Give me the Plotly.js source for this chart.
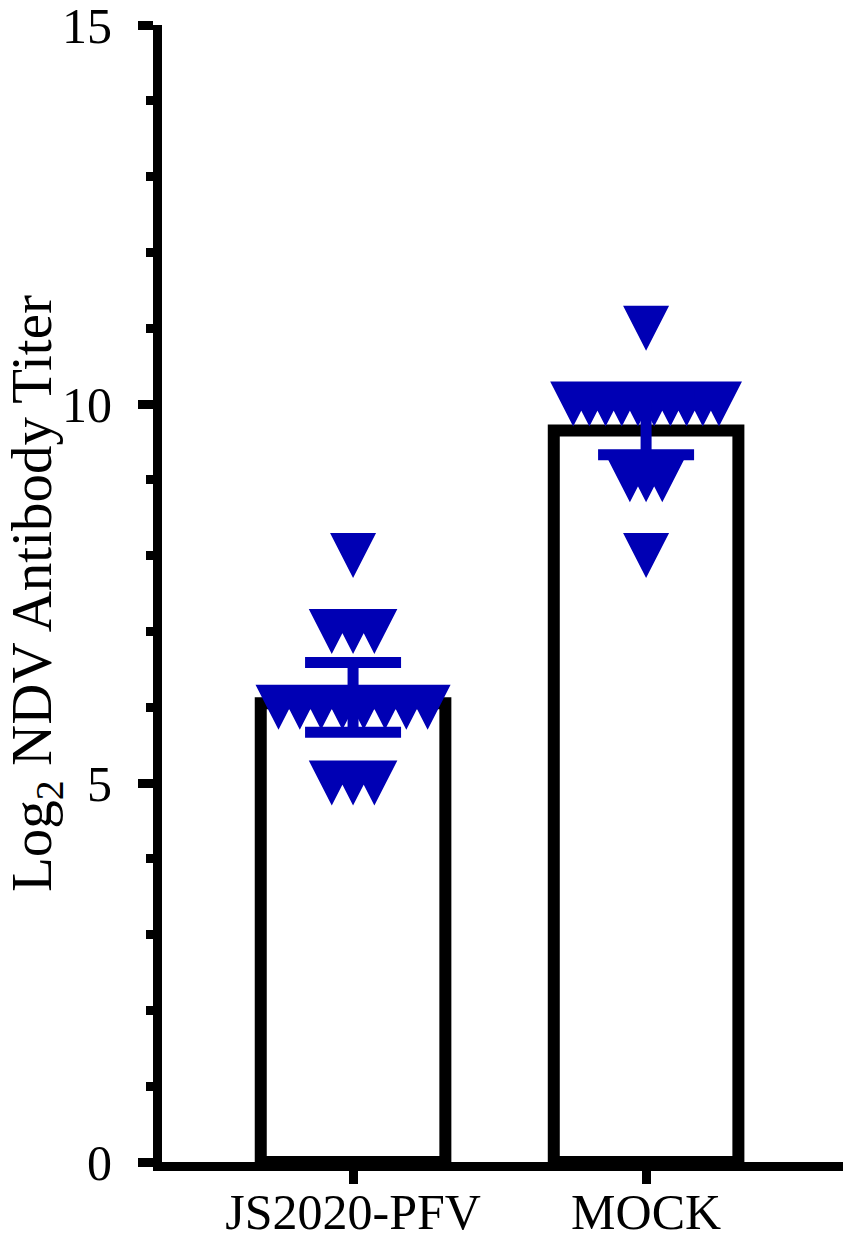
<!DOCTYPE html>
<html>
<head>
<meta charset="utf-8">
<script src="https://cdn.plot.ly/plotly-3.0.1.min.js"></script>
<style>
  html, body { margin: 0; padding: 0; background: #ffffff; }
  #chart { width: 851px; height: 1243px; }
</style>
</head>
<body>
<div id="chart"></div>
<script>
// ---------- data ----------
const categories = ['JS2020-PFV', 'MOCK'];
const pfvTiters  = [8, 7, 7, 7, 6, 6, 6, 6, 6, 6, 6, 6, 5, 5, 5];
const mockTiters = [11, 10, 10, 10, 10, 10, 10, 10, 10, 10, 10, 9, 9, 9, 8];
const groupMeans = [6.13, 9.73];
const groupErr   = [0.46, 0.40];
const yTickVals  = [0, 5, 10, 15];
const yTickText  = ['0', '5', '10', '15'];

// ---------- style / layout settings ----------
const W = 851, H = 1243;
const M = { l: 162, r: 8, t: 25, b: 81 };
const yRange = [0, 15];
const xRange = [-0.652, 1.672];
const triW = 46, triH = 45;          // triangle size in px
const rowSpacing = [21.3, 16.2];     // horizontal spread of equal values, px
const barLine = 12;                  // bar outline width, px (drawn inside the mean)
const blue = '#0000B4';
const fontFam = '"Liberation Serif", "Times New Roman", Times, serif';

const pxPerY = (H - M.t - M.b) / (yRange[1] - yRange[0]);
const pxPerX = (W - M.l - M.r) / (xRange[1] - xRange[0]);

// build triangle outlines from the data values
function triangles(values, gi) {
  const xs = [], ys = [];
  const counts = {};
  values.forEach(v => { counts[v] = (counts[v] || 0) + 1; });
  const seen = {};
  values.forEach(v => {
    const n = counts[v];
    const i = seen[v] || 0; seen[v] = i + 1;
    const offPx = (i - (n - 1) / 2) * rowSpacing[gi];
    const xc = gi + offPx / pxPerX;
    const hw = (triW / 2) / pxPerX;
    const hh = (triH / 2) / pxPerY;
    xs.push(xc - hw, xc + hw, xc, xc - hw, null);
    ys.push(v + hh, v + hh, v - hh, v + hh, null);
  });
  return { xs, ys };
}

const groups = [pfvTiters, mockTiters];
const idx = categories.map((c, i) => i);
// outline sits inside the mean: shift the bar top down by half the line width
const barDraw = groupMeans.map(m => m - (barLine / 2) / pxPerY);

const traces = [];
traces.push({
  type: 'bar',
  x: idx,
  y: barDraw,
  width: 0.63,
  marker: { color: 'rgba(255,255,255,0)', line: { color: '#000000', width: barLine } },
  hoverinfo: 'skip',
  showlegend: false
});
groups.forEach((vals, gi) => {
  const t = triangles(vals, gi);
  traces.push({
    type: 'scatter',
    mode: 'lines',
    x: t.xs, y: t.ys,
    fill: 'toself',
    fillcolor: blue,
    line: { width: 0, color: blue },
    connectgaps: false,
    hoverinfo: 'skip',
    showlegend: false,
    cliponaxis: false
  });
});
traces.push({
  type: 'scatter',
  mode: 'markers',
  x: idx,
  y: groupMeans,
  marker: { size: 1, color: 'rgba(0,0,0,0)' },
  error_y: { type: 'data', array: groupErr, visible: true, color: blue, thickness: 11, width: 48 },
  hoverinfo: 'skip',
  showlegend: false
});

const layout = {
  width: W, height: H,
  margin: M,
  paper_bgcolor: '#ffffff',
  plot_bgcolor: '#ffffff',
  showlegend: false,
  font: { family: fontFam, color: '#000000' },
  xaxis: {
    range: xRange,
    tickvals: idx,
    ticktext: categories,
    showgrid: false, zeroline: false,
    showline: true, linecolor: '#000000', linewidth: 9,
    ticks: 'outside', ticklen: 13, tickwidth: 9, tickcolor: '#000000',
    tickfont: { family: fontFam, size: 50, color: '#000000' },
    ticklabelstandoff: -15,
    ticklabeloverflow: 'allow',
    fixedrange: true
  },
  yaxis: {
    range: yRange,
    tickvals: yTickVals,
    ticktext: yTickText,
    showgrid: false, zeroline: false,
    showline: true, linecolor: '#000000', linewidth: 9,
    ticks: 'outside', ticklen: 15, tickwidth: 9, tickcolor: '#000000',
    tickfont: { family: fontFam, size: 50, color: '#000000' },
    ticklabelstandoff: 16,
    ticklabeloverflow: 'allow',
    minor: { dtick: 1, ticks: 'outside', ticklen: 7, tickwidth: 9, tickcolor: '#000000', showgrid: false },
    title: { text: 'Log<sub>2</sub> NDV Antibody Titer', font: { family: fontFam, size: 57, color: '#000000' }, standoff: 18 },
    fixedrange: true
  }
};

Plotly.newPlot('chart', traces, layout, { displayModeBar: false, staticPlot: true });
</script>
</body>
</html>
